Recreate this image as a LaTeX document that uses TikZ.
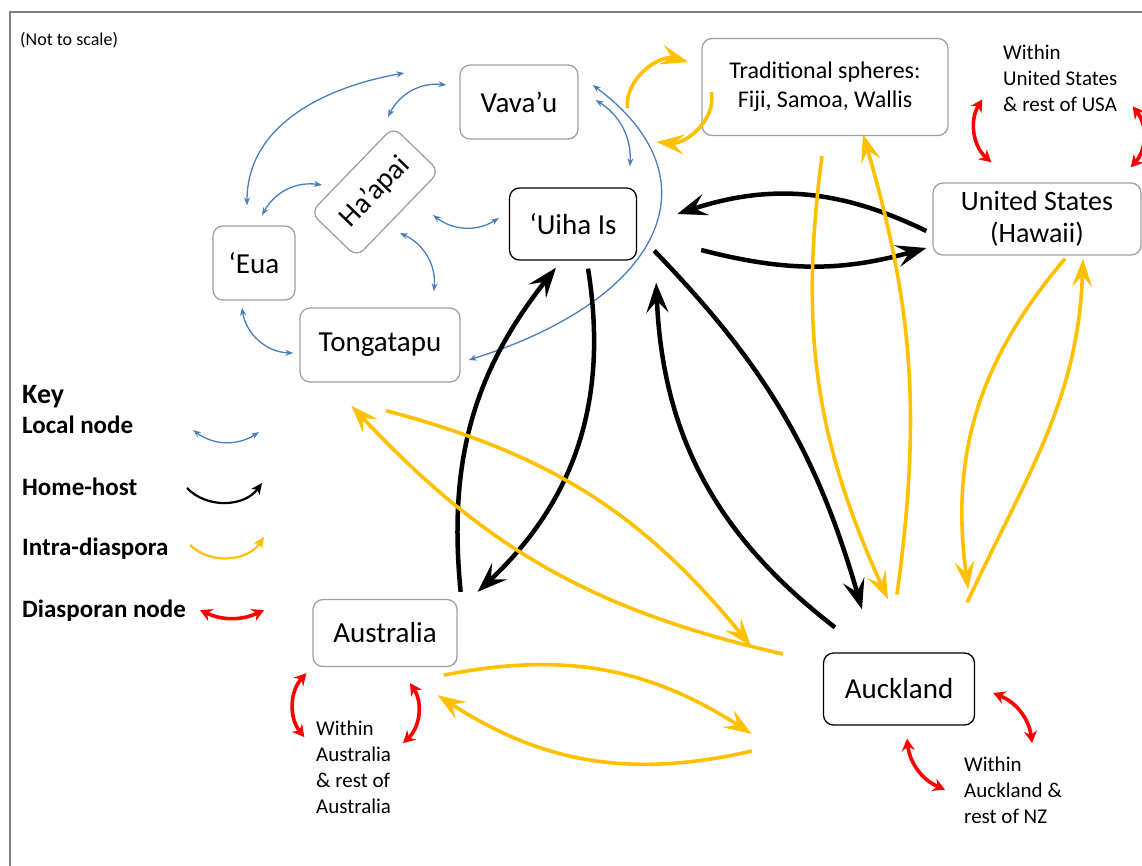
\documentclass[tikz,border=0pt]{standalone}
\usepackage{fontspec}
\setmainfont{Carlito}
\usetikzlibrary{positioning,arrows.meta,calc}
\definecolor{localblue}{HTML}{4A7EBB}
\definecolor{intrayellow}{HTML}{FFC000}
\definecolor{boxgray}{HTML}{A0A0A0}
\definecolor{framegray}{HTML}{808080}

\begin{document}
\begin{tikzpicture}[
            x=1pt, y=-1pt,
            % Style ô đảo / nơi chốn
            island/.style={
                draw=boxgray,
                line width=1.3pt,
                rounded corners=10pt,
                align=center,
                inner sep=0pt,
                font=\fontsize{29}{33}\selectfont
            },
            % Nút trung tâm: viền đen
            hub/.style={island, draw=black},
            % Ghi chú nhỏ
            note/.style={
                align=left,
                anchor=north west,
                inner sep=0pt,
                font=\fontsize{21}{26}\selectfont
            },
            % Chú giải
            keylabel/.style={
                anchor=base west,
                inner sep=0pt,
                font=\bfseries\fontsize{25}{29}\selectfont
            },
            % Các loại mũi tên
            local/.style={localblue, line width=1.3pt,
                {Stealth[length=8pt,width=6pt]}-{Stealth[length=8pt,width=6pt]}},
            homehost/.style={black, line width=4.5pt,
                -{Stealth[length=30pt,width=22pt,inset=12pt]}},
            intra/.style={intrayellow, line width=3.6pt,
                -{Stealth[length=28pt,width=20pt,inset=11pt]}},
            diaspora/.style={red, line width=3.6pt,
                {Stealth[length=12pt,width=13pt]}-{Stealth[length=12pt,width=13pt]}}
        ]
            \useasboundingbox (0,0) rectangle (1142,865);
            \draw[framegray, line width=1.5pt] (10,866) -- (10,12) -- (1143,12);

            \node[anchor=west, inner sep=0pt, font=\fontsize{18}{20}\selectfont] (notscale) at (20,40) {(Not to scale)};

            % --- CÁC NÚT TONGA ---
            \node[island, minimum width=118pt, minimum height=74pt] (vavau) at (519,102) {Vava’u};
            \node[island, minimum width=119pt, minimum height=64pt, rotate=46] (haapai) at (375,192) {Ha’apai};
            \node[island, minimum width=82pt, minimum height=74pt] (eua) at (254,263) {‘Eua};
            \node[island, minimum width=160pt, minimum height=74pt] (tonga) at (380,345) {Tongatapu};
            \node[hub, minimum width=127pt, minimum height=72pt] (uiha) at (573,224) {‘Uiha Is};

            % --- CÁC NÚT HẢI NGOẠI ---
            \node[island, minimum width=246pt, minimum height=97pt,
                  font=\fontsize{24}{29}\selectfont] (trad) at (825,87) {Traditional spheres:\\Fiji, Samoa, Wallis};
            \node[island, minimum width=208pt, minimum height=72pt,
                  font=\fontsize{28}{32}\selectfont] (usa) at (1037,219) {United States\\(Hawaii)};
            \node[island, minimum width=144pt, minimum height=67pt] (aus) at (385,633) {Australia};
            \node[hub, minimum width=151pt, minimum height=72pt] (akl) at (899,689) {Auckland};

            \node[note] (usa_note) at (1003,45) {Within\\United States\\\& rest of USA};
            \node[note] (aus_note) at (316,721) {Within\\Australia\\\& rest of\\Australia};
            \node[note] (akl_note) at (964,757) {Within\\Auckland \&\\rest of NZ};

            % --- CHÚ GIẢI ---
            \node[keylabel, font=\bfseries\fontsize{28}{32}\selectfont] (k_title) at (22,403) {Key};
            \node[keylabel] (k_local) at (22,433) {Local node};
            \node[keylabel] (k_home) at (22,495) {Home-host};
            \node[keylabel] (k_intra) at (22,555) {Intra-diaspora};
            \node[keylabel] (k_dias) at (22,617) {Diasporan node};

            \draw[local] ([shift={(171,-3)}]k_local.base west) to[bend right=35] ([shift={(237,-1)}]k_local.base west);
            \draw[homehost, line width=2.2pt, -{Stealth[length=11pt,width=10pt,inset=3pt]}]
                ([shift={(165,-7)}]k_home.base west) to[bend right=50] ([shift={(240,-12)}]k_home.base west);
            \draw[intra, line width=2.2pt, -{Stealth[length=11pt,width=10pt,inset=3pt]}]
                ([shift={(168,-10)}]k_intra.base west) to[bend right=50] ([shift={(242,-18)}]k_intra.base west);
            \draw[diaspora] ([shift={(178,-7)}]k_dias.base west) to[bend right=25] ([shift={(242,-7)}]k_dias.base west);

            % --- MŨI TÊN NỘI ĐỊA (XANH) ---
            \draw[local] ([shift={(-7,-20)}]eua.north) to[out=90,in=190] ([shift={(-55,-29)}]vavau.west);
            \draw[local] ([shift={(13,-75)}]haapai.center) to[bend left=35] ([shift={(-13,-17)}]vavau.west);
            \draw[local] ([shift={(8,-10)}]eua.north) to[bend left=35] ([shift={(-53,-7)}]haapai.center);
            \draw[local] ([shift={(58,23)}]haapai.center) to[bend right=35] ([shift={(-10,-6)}]uiha.west);
            \draw[local] ([shift={(25,41)}]haapai.center) to[bend left=35] ([shift={(54,-16)}]tonga.north);
            \draw[local] ([shift={(-12,7)}]eua.south) to[bend right=40] ([shift={(-6,8)}]tonga.west);
            \draw[local] ([shift={(17,-2)}]vavau.east) to[bend left=30] ([shift={(57,-21)}]uiha.north);
            \draw[local] ([shift={(14,-17)}]vavau.east) .. controls +(128,95) and +(192,-60) .. ([shift={(8,15)}]tonga.east);

            % --- MŨI TÊN QUÊ NHÀ - NƠI Ở (ĐEN) ---
            \draw[homehost] ([shift={(-6,12)}]usa.west) to[bend right=22] ([shift={(40,-10)}]uiha.east);
            \draw[homehost] ([shift={(64,26)}]uiha.east) to[bend right=15] ([shift={(-6,29)}]usa.west);
            \draw[homehost] ([shift={(3,-7)}]aus.north east) to[bend left=22] ([shift={(-17,7)}]uiha.south);
            \draw[homehost] ([shift={(15,8)}]uiha.south) to[bend left=28] ([shift={(20,-7)}]aus.north east);
            \draw[homehost] ([shift={(-64,-25)}]akl.north) to[bend left=25] ([shift={(19,22)}]uiha.south east);
            \draw[homehost] ([shift={(17,-10)}]uiha.south east) to[bend left=14] ([shift={(-37,-43)}]akl.north);

            % --- MŨI TÊN GIỮA CÁC CỘNG ĐỒNG (VÀNG) ---
            \draw[intra] ([shift={(-74,21)}]trad.west) to[out=95,in=165] ([shift={(-13,-25)}]trad.west);
            \draw[intra] ([shift={(10,5)}]trad.west) to[out=-80,in=-5] ([shift={(-45,55)}]trad.west);
            \draw[intra] ([shift={(-3,20)}]trad.south) to[bend right=16] ([shift={(-11,-53)}]akl.north);
            \draw[intra] ([shift={(-2,-58)}]akl.north) to[bend right=12] ([shift={(38,-2)}]trad.south);
            \draw[intra] ([shift={(28,3)}]usa.south) to[bend right=24] ([shift={(-7,-63)}]akl.north east);
            \draw[intra] ([shift={(-8,-50)}]akl.north east) to[out=65,in=-92] ([shift={(46,3)}]usa.south);
            \draw[intra] ([shift={(6,28)}]tonga.south) to[bend left=18] ([shift={(-72,-43)}]akl.west);
            \draw[intra] ([shift={(-40,-35)}]akl.west) to[bend left=17] ([shift={(52,23)}]tonga.south west);
            \draw[intra] ([shift={(-14,8)}]aus.south east) to[bend left=22] ([shift={(-71,45)}]akl.west);
            \draw[intra] ([shift={(-71,62)}]akl.west) to[bend left=23] ([shift={(-20,28)}]aus.south east);

            % --- MŨI TÊN TRONG NƯỚC (ĐỎ) ---
            \draw[diaspora] ([shift={(50,-83)}]usa.north west) to[bend right=40] ([shift={(59,-20)}]usa.north west);
            \draw[diaspora] ([shift={(-9,-76)}]usa.north east) to[bend left=40] ([shift={(-11,-15)}]usa.north east);
            \draw[diaspora] ([shift={(-6,6)}]aus.south west) to[bend right=40] ([shift={(-8,70)}]aus.south west);
            \draw[diaspora] ([shift={(25,16)}]aus.south) to[bend left=40] ([shift={(18,76)}]aus.south);
            \draw[diaspora] ([shift={(18,4)}]akl.east) to[bend left=30] ([shift={(57,54)}]akl.east);
            \draw[diaspora] ([shift={(8,13)}]akl.south) to[bend right=30] ([shift={(46,64)}]akl.south);

        \end{tikzpicture}
\end{document}
